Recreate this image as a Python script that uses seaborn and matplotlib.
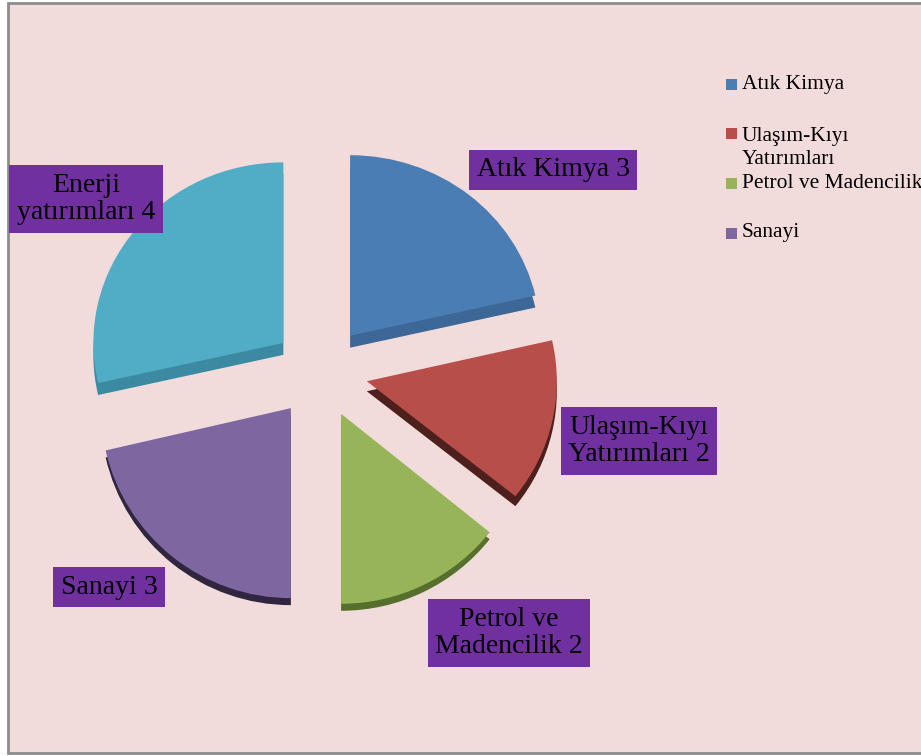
import matplotlib
matplotlib.use("Agg")
import matplotlib.pyplot as plt
from matplotlib.patches import Rectangle
from matplotlib.transforms import Affine2D
import seaborn as sns

# Data
categories = ["Atık Kimya", "Ulaşım-Kıyı Yatırımları", "Petrol ve Madencilik",
              "Sanayi", "Enerji yatırımları"]
values = [3, 2, 2, 3, 4]
slice_labels = ["Atık Kimya 3", "Ulaşım-Kıyı\nYatırımları 2", "Petrol ve\nMadencilik 2",
                "Sanayi 3", "Enerji\nyatırımları 4"]
legend_labels = ["Atık Kimya", "Ulaşım-Kıyı\nYatırımları", "Petrol ve Madencilik", "Sanayi"]

top_colors = ["#4b7db5", "#b74e4a", "#97b558", "#7e66a0", "#51adc6"]
side_colors = ["#3d6796", "#4d1f1d", "#566f2d", "#30263f", "#3b8aa1"]

sns.set_theme(style="white")
plt.rcParams["font.family"] = ["Liberation Serif", "DejaVu Serif"]

W, H = 921, 756
fig = plt.figure(figsize=(W / 100, H / 100), dpi=100, facecolor="white")
ax = fig.add_axes([0, 0, 1, 1])
ax.set_axis_off()

# chart area
ax.add_patch(Rectangle((8, 3), 940, 750, facecolor="#f2dcdb", edgecolor="#8c8c8c",
                       linewidth=2, zorder=0))

cx, cy, R = 320.5, 385.0, 190.0
explode = [47.5] * len(values)          # offset in data units (pie radius is R)
# perspective: far (upper) slices look flatter and show a thicker side
tilt = [0.95, 0.97, 1.0, 1.0, 0.95]
depth = [12, 10, 7, 7, 12]

# side (thickness) layer, then the top surface
for colors, side, z in [(side_colors, True, 1), (top_colors, False, 2)]:
    wedges, _ = ax.pie(values, colors=colors, startangle=90, counterclock=False,
                       explode=explode, radius=R, center=(0, 0),
                       wedgeprops=dict(linewidth=0))
    for w, k, d in zip(wedges, tilt, depth):
        dy = -d if side else 0.0
        w.set_transform(Affine2D().scale(1, k).translate(cx, cy + dy) + ax.transData)
        w.set_zorder(z)

ax.set_xlim(0, W)
ax.set_ylim(0, H)
ax.set_aspect("auto")

# data labels in purple boxes (positions given as image rows, converted to data y)
label_pos = [(553, 170), (639, 441), (509, 633), (109, 587), (86, 199)]
for text, (x, yi) in zip(slice_labels, label_pos):
    ax.text(x, H - yi, text, ha="center", va="center", fontsize=20, color="black",
            linespacing=1.12, zorder=5,
            bbox=dict(boxstyle="square,pad=0.27", facecolor="#7030a0", edgecolor="none"))

# legend
legend_y = [84, 133.5, 183, 233]
for lab, col, yi in zip(legend_labels, top_colors, legend_y):
    ax.add_patch(Rectangle((726, H - yi - 5.5), 11, 11, facecolor=col,
                           edgecolor="none", zorder=5))
    if "\n" in lab:
        ax.text(742, H - yi + 7, lab, ha="left", va="top", fontsize=15.5,
                color="black", linespacing=1.3, zorder=5)
    else:
        ax.text(742, H - yi, lab, ha="left", va="center", fontsize=15.5,
                color="black", zorder=5)

fig.savefig("out.png", dpi=100, facecolor="white")
